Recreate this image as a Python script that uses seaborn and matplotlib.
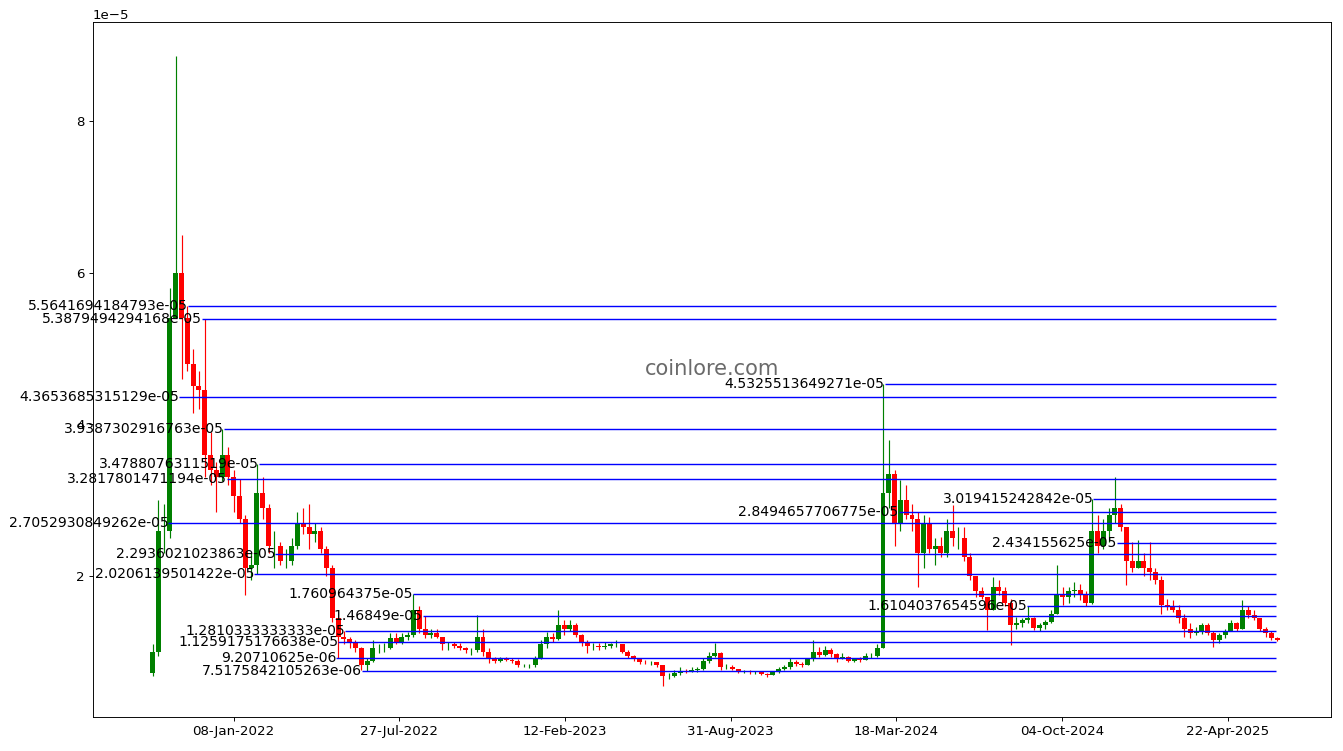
import numpy as np
import pandas as pd
import matplotlib
matplotlib.use("Agg")
import matplotlib.pyplot as plt
import seaborn as sns

# ---------------- data (prices in units of 1e-5) ----------------
first_week = "2021-09-29"
first_open = 0.72
close_ = [1.0, 2.6, 2.6, 5.4, 6.0, 5.4, 4.8, 4.5, 4.45, 3.6,
          3.4, 3.3, 3.6, 3.3, 3.05, 2.75, 2.1, 2.15, 3.1, 2.9,
          2.4, 2.4, 2.2, 2.2, 2.4, 2.7, 2.65, 2.55, 2.6, 2.35,
          2.1, 1.45, 1.2, 1.17, 1.12, 1.05, 0.82, 0.88, 1.05, 1.05,
          1.05, 1.18, 1.12, 1.2, 1.22, 1.55, 1.3, 1.22, 1.25, 1.2,
          1.1, 1.1, 1.08, 1.05, 1.02, 1.02, 1.2, 1.0, 0.92, 0.88,
          0.9, 0.89, 0.88, 0.82, 0.82, 0.82, 0.92, 1.1, 1.2, 1.17,
          1.35, 1.3, 1.35, 1.22, 1.12, 1.08, 1.08, 1.06, 1.08, 1.1,
          1.1, 1.0, 0.95, 0.9, 0.87, 0.86, 0.86, 0.82, 0.68, 0.68,
          0.72, 0.75, 0.74, 0.76, 0.78, 0.88, 0.95, 0.98, 0.8, 0.8,
          0.77, 0.74, 0.74, 0.73, 0.73, 0.71, 0.7, 0.73, 0.78, 0.8,
          0.86, 0.84, 0.83, 0.9, 1.0, 0.96, 1.02, 0.97, 0.92, 0.93,
          0.88, 0.9, 0.89, 0.95, 0.95, 1.05, 3.1, 3.35, 2.7, 3.0,
          2.8, 2.75, 2.3, 2.7, 2.35, 2.4, 2.3, 2.6, 2.5, 2.5,
          2.25, 2.0, 1.8, 1.72, 1.55, 1.85, 1.8, 1.65, 1.35, 1.38,
          1.42, 1.45, 1.32, 1.35, 1.4, 1.5, 1.75, 1.72, 1.8, 1.82,
          1.75, 1.65, 2.6, 2.4, 2.6, 2.8, 2.9, 2.65, 2.2, 2.1,
          2.2, 2.1, 2.05, 1.95, 1.62, 1.6, 1.55, 1.45, 1.3, 1.25,
          1.28, 1.35, 1.25, 1.15, 1.22, 1.28, 1.38, 1.3, 1.55, 1.48,
          1.45, 1.3, 1.25, 1.18, 1.15]
high_ = [1.1, 3.0, 2.95, 5.8, 8.86, 6.5, 5.56, 5.0, 4.7, 5.39,
         3.9, 3.5, 3.94, 3.7, 3.4, 3.28, 2.8, 2.3, 3.48, 3.3,
         2.95, 2.6, 2.45, 2.35, 2.5, 2.85, 2.9, 2.95, 2.7, 2.65,
         2.4, 2.15, 1.45, 1.28, 1.2, 1.15, 1.06, 0.92, 1.16, 1.1,
         1.12, 1.25, 1.25, 1.25, 1.26, 1.76, 1.6, 1.47, 1.3, 1.3,
         1.2, 1.13, 1.13, 1.12, 1.07, 1.05, 1.49, 1.3, 1.05, 0.93,
         0.93, 0.93, 0.92, 0.9, 0.84, 0.84, 0.95, 1.15, 1.26, 1.25,
         1.55, 1.42, 1.42, 1.38, 1.24, 1.15, 1.12, 1.12, 1.13, 1.12,
         1.16, 1.1, 1.03, 0.96, 0.9, 0.89, 0.88, 0.87, 0.83, 0.72,
         0.76, 0.8, 0.78, 0.8, 0.8, 0.92, 1.0, 1.12, 1.0, 0.84,
         0.82, 0.78, 0.76, 0.76, 0.75, 0.74, 0.72, 0.75, 0.8, 0.83,
         0.92, 0.89, 0.87, 0.92, 1.16, 1.06, 1.08, 1.05, 0.98, 0.98,
         0.94, 0.92, 0.93, 0.98, 0.98, 1.1, 4.53, 3.79, 3.4, 3.27,
         3.2, 2.95, 2.85, 2.8, 2.78, 2.5, 2.52, 2.75, 2.93, 2.65,
         2.65, 2.3, 2.0, 1.85, 1.72, 1.99, 1.95, 1.85, 1.7, 1.46,
         1.45, 1.61, 1.46, 1.38, 1.42, 1.55, 2.14, 1.85, 1.85, 1.92,
         1.9, 1.8, 3.02, 2.8, 2.75, 2.9, 3.31, 2.95, 2.65, 2.45,
         2.47, 2.3, 2.45, 2.1, 2.0, 1.7, 1.68, 1.62, 1.5, 1.38,
         1.33, 1.38, 1.38, 1.28, 1.25, 1.3, 1.42, 1.4, 1.68, 1.6,
         1.55, 1.45, 1.33, 1.28, 1.2]
low_ = [0.68, 0.95, 2.3, 2.5, 5.4, 4.6, 4.7, 4.15, 4.2, 3.3,
        3.2, 2.84, 3.25, 3.2, 2.85, 2.7, 1.75, 1.95, 2.02, 2.75,
        2.3, 2.1, 2.15, 2.1, 2.15, 2.35, 2.55, 2.35, 2.45, 2.3,
        2.0, 1.4, 0.92, 1.1, 1.05, 1.0, 0.76, 0.75, 0.86, 0.98,
        1.0, 1.04, 1.1, 1.1, 1.15, 1.2, 1.25, 1.18, 1.18, 1.18,
        1.03, 1.03, 1.05, 1.03, 0.98, 0.96, 1.0, 0.95, 0.85, 0.85,
        0.87, 0.88, 0.85, 0.8, 0.8, 0.79, 0.8, 0.9, 1.05, 1.13,
        1.15, 1.22, 1.28, 1.2, 1.08, 0.98, 1.03, 1.03, 1.04, 1.05,
        1.06, 0.98, 0.92, 0.88, 0.84, 0.84, 0.83, 0.8, 0.55, 0.64,
        0.67, 0.7, 0.72, 0.73, 0.74, 0.76, 0.85, 0.93, 0.76, 0.78,
        0.76, 0.72, 0.72, 0.71, 0.71, 0.69, 0.67, 0.69, 0.72, 0.76,
        0.78, 0.81, 0.8, 0.82, 0.88, 0.93, 0.95, 0.93, 0.86, 0.9,
        0.86, 0.87, 0.87, 0.89, 0.92, 0.93, 1.05, 2.9, 2.39, 2.6,
        2.75, 2.6, 1.86, 2.1, 2.3, 2.15, 2.25, 2.25, 2.4, 2.35,
        2.2, 1.95, 1.72, 1.7, 1.29, 1.55, 1.75, 1.6, 1.09, 1.3,
        1.33, 1.38, 1.29, 1.28, 1.3, 1.38, 1.5, 1.62, 1.64, 1.72,
        1.68, 1.6, 1.63, 2.3, 2.35, 2.45, 2.7, 2.6, 1.88, 2.05,
        2.1, 2.0, 1.95, 1.9, 1.5, 1.55, 1.52, 1.38, 1.2, 1.18,
        1.22, 1.24, 1.22, 1.07, 1.12, 1.18, 1.27, 1.28, 1.3, 1.45,
        1.42, 1.28, 1.2, 1.16, 1.14]

# support / resistance levels
level_values = [5.5641694184793e-05, 5.3879494294168e-05, 4.3653685315129e-05,
                3.9387302916763e-05, 3.4788076311519e-05, 3.2817801471194e-05,
                2.7052930849262e-05, 2.2936021023863e-05, 2.0206139501422e-05,
                1.760964375e-05, 1.46849e-05, 1.2810333333333e-05,
                1.1259175176638e-05, 9.20710625e-06, 7.5175842105263e-06,
                4.5325513649271e-05, 2.8494657706775e-05, 3.019415242842e-05,
                2.434155625e-05, 1.6104037654596e-05]
level_starts = ["2021-11-14", "2021-12-01", "2021-11-03", "2021-12-27", "2022-02-07",
                "2021-12-31", "2021-10-21", "2022-02-27", "2022-02-02", "2022-08-13",
                "2022-08-24", "2022-05-22", "2022-05-14", "2022-05-12", "2022-06-12",
                "2024-03-04", "2024-03-21", "2024-11-11", "2024-12-09", "2024-08-23"]
level_end = "2025-06-20"

xtick_labels = ["08-Jan-2022", "27-Jul-2022", "12-Feb-2023", "31-Aug-2023",
                "18-Mar-2024", "04-Oct-2024", "22-Apr-2025"]
ytick_values = [2e-5, 4e-5, 6e-5, 8e-5]

# ---------------- table ----------------
scale = 1e-5
week_starts = pd.date_range(first_week, periods=len(close_), freq="7D")
df = pd.DataFrame({
    "date": week_starts + pd.Timedelta(days=3),
    "open": np.array([first_open] + close_[:-1]) * scale,
    "high": np.array(high_) * scale,
    "low": np.array(low_) * scale,
    "close": np.array(close_) * scale,
})
df["up"] = df["close"] >= df["open"]

# ---------------- style ----------------
sns.set_style("ticks", {"axes.edgecolor": "black", "xtick.color": "black",
                        "ytick.color": "black", "text.color": "black",
                        "axes.labelcolor": "black"})
plt.rcParams["font.family"] = ["DejaVu Sans"]

dpi = 84
fig = plt.figure(figsize=(1343 / dpi, 751 / dpi), dpi=dpi)
ax = fig.add_axes([0.0692, 0.0453, 0.9219, 0.9254])

colors = np.where(df["up"], "green", "red")
ax.vlines(df["date"], df["low"], df["high"], colors=colors, linewidth=1.0, zorder=2)
ax.bar(df["date"], (df["close"] - df["open"]).abs(),
       bottom=df[["open", "close"]].min(axis=1), width=6.0,
       color=colors, linewidth=0, zorder=2)

end = pd.Timestamp(level_end)
for val, start in zip(level_values, level_starts):
    s = pd.Timestamp(start)
    ax.hlines(val, s, end, colors="blue", linewidth=1.2, zorder=3)
    ax.text(s, val, repr(val), ha="right", va="center", fontsize=12, zorder=4)

ax.text(0.5, 0.5, "coinlore.com", transform=ax.transAxes, ha="center",
        va="center", fontsize=18, color="#5a5a5a", alpha=0.9)

xt = pd.to_datetime(xtick_labels, format="%d-%b-%Y")
ax.set_xticks(xt)
ax.set_xticklabels(xtick_labels)
ax.set_xlim(pd.Timestamp("2021-07-22"), pd.Timestamp("2025-08-25"))
ax.set_yticks(ytick_values)
ax.set_ylim(0.141e-5, 9.306e-5)
ax.tick_params(axis="both", labelsize=11.5, length=3.5, width=0.8, direction="out")
ax.yaxis.get_offset_text().set_fontsize(11.5)
for sp in ax.spines.values():
    sp.set_visible(True)
    sp.set_color("black")
    sp.set_linewidth(0.8)

fig.savefig("out.png", dpi=dpi)
